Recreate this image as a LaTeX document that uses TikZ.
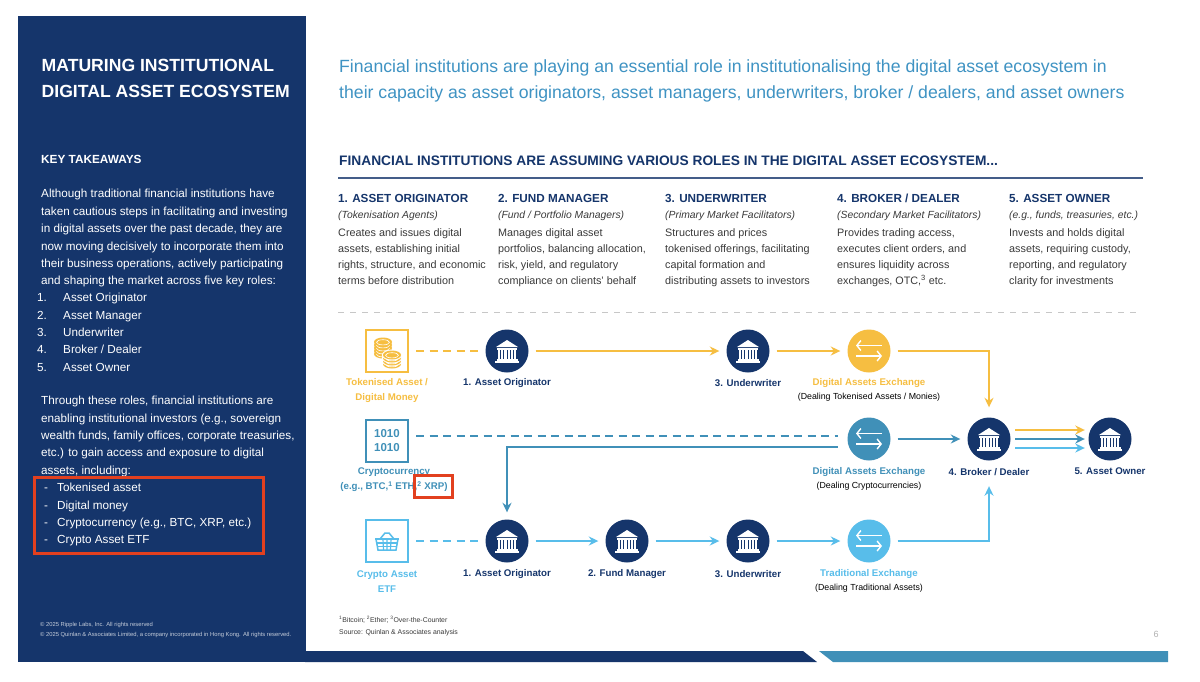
\documentclass[tikz,border=0pt]{standalone}
\usepackage{fontspec}
\setmainfont{Liberation Sans}
\usetikzlibrary{arrows.meta}

\definecolor{navy}{HTML}{15356B}
\definecolor{gold}{HTML}{F6BE41}
\definecolor{teal}{HTML}{4090B8}
\definecolor{sky}{HTML}{58BDEA}
\definecolor{redbox}{HTML}{E2401F}
\definecolor{titleblue}{HTML}{3F93C3}
\definecolor{bodygrey}{HTML}{3A3A3A}
\newcommand{\fsz}[2]{\fontsize{#1}{#2}\selectfont}

\tikzset{
  bank/.pic={
    \fill[white] (-11,-4) -- (0,-11) -- (11,-4) -- cycle;
    \fill[white] (-10,-3) rectangle (10,-1.5);
    \foreach \cx in {-8,-4.8,-1.6,1.6,4.8,8} \fill[white] (\cx-1.1,-1) rectangle (\cx+1.1,7.5);
    \fill[white] (-10.5,8) rectangle (10.5,9.5);
    \fill[white] (-12,10) rectangle (12,11.5);
  },
  swap/.pic={
    \draw[white,line width=1.4pt,-{Straight Barb[length=4pt,width=10pt]}] (13,-5.5) -- (-13,-5.5);
    \draw[white,line width=1.4pt,-{Straight Barb[length=4pt,width=10pt]}] (-13,5) -- (13,5);
  },
  coins/.pic={
    \foreach \cy in {3,0,-3,-6,-9} {
      \fill[gold] (-4,\cy) ellipse (9 and 4.5);
      \draw[white,line width=.6pt] (-4,\cy+.3) ellipse (6.5 and 2.6);
    }
    \foreach \cy in {13,10,7,4} {
      \fill[white] (5,\cy) ellipse (10.2 and 5.5);
      \fill[gold] (5,\cy) ellipse (9 and 4.5);
      \draw[white,line width=.6pt] (5,\cy+.3) ellipse (6.5 and 2.6);
    }
  },
  basket/.pic={
    \draw[sky,line width=1.5pt] (-7,-2) -- (-2,-8) -- (2,-8) -- (7,-2);
    \draw[sky,line width=1.5pt] (-12,-2) -- (12,-2);
    \draw[sky,line width=1.5pt] (-11,-2) -- (-9,9) -- (9,9) -- (11,-2);
    \draw[sky,line width=1.2pt] (-10,2) -- (10,2) (-9.5,5.5) -- (9.5,5.5);
    \draw[sky,line width=1.2pt] (-4,-2) -- (-3.5,9) (0,-2) -- (0,9) (4,-2) -- (3.5,9);
  }
}

\begin{document}
\begin{tikzpicture}[x=1pt,y=-1pt,>={Stealth[length=9.5pt,width=9pt]},
    bank node/.style={circle,fill=navy,minimum size=43pt,inner sep=0pt},
    asset node/.style={draw=#1,fill=white,line width=2.2pt,minimum size=42pt,inner sep=0pt},
    flow/.style={draw=#1,line width=2pt,->,shorten <=7pt,shorten >=7pt},
    dashflow/.style={draw=#1,line width=2pt,dash pattern=on 8pt off 5.5pt,shorten <=7pt,shorten >=2pt},
    role label/.style={font=\fsz{9.7}{15}\bfseries,text=navy,align=center,inner sep=0pt},
    asset label/.style={font=\fsz{9.7}{15}\bfseries,text=#1,align=center,inner sep=0pt},
    sub label/.style={font=\fsz{8.8}{11},text=black,align=center,inner sep=0pt},
    side text/.style={font=\fsz{11.7}{17.4},text=white,align=left,anchor=north west,inner sep=0pt},
    col head/.style={font=\fsz{11.7}{16}\bfseries,text=navy,anchor=west,inner sep=0pt},
    col sub/.style={font=\fsz{10.35}{12}\itshape,text=bodygrey,anchor=west,inner sep=0pt},
    col body/.style={font=\fsz{10.8}{16},text=bodygrey,align=left,anchor=north west,inner sep=0pt},
    red mark/.style={draw=redbox,line width=3pt,inner sep=0pt}]
  \useasboundingbox (0,0) rectangle (1200,681);
  \fill[white] (0,0) rectangle (1200,681);

  % side panel and bottom bar
  \fill[navy] (18,15.5) rectangle (305.5,662);
  \fill[navy] (305,651) -- (803,651) -- (817,662) -- (305,662) -- cycle;
  \fill[teal] (819,651) -- (1168,651) -- (1168,662) -- (833,662) -- cycle;

  % side panel text
  \node[font=\fsz{17.6}{26}\bfseries,text=white,align=left,anchor=north west,inner sep=0pt] (sidetitle) at (41.5,59) {MATURING INSTITUTIONAL\\DIGITAL ASSET ECOSYSTEM};
  \node[font=\fsz{11.8}{14}\bfseries,text=white,anchor=west,inner sep=0pt] (takeaways) at (41,159.5) {KEY TAKEAWAYS};
  \node[side text] (para1) at (41,189.3) {Although traditional financial institutions have\\taken cautious steps in facilitating and investing\\in digital assets over the past decade, they are\\now moving decisively to incorporate them into\\their business operations, actively participating\\and shaping the market across five key roles:};
  \node[side text] (listnum) at (37,293) {1.\vphantom{k}\\2.\\3.\\4.\\5.};
  \node[side text] (listrole) at (63,293) {Asset Originator\\Asset Manager\\Underwriter\\Broker / Dealer\\Asset Owner};
  \node[side text] (para2) at (41,396) {Through these roles, financial institutions are\\enabling institutional investors (e.g., sovereign\\wealth funds, family offices, corporate treasuries,\\etc.) to gain access and exposure to digital\\assets, including:};
  \node[side text] (listdash) at (44,483) {-\vphantom{k}\\-\\-\\-};
  \node[side text] (listasset) at (57,483) {Tokenised asset\\Digital money\\Cryptocurrency (e.g., BTC, XRP, etc.)\\Crypto Asset ETF};
  \node[font=\fsz{5.83}{10},text=white!75!navy,align=left,anchor=north west,inner sep=0pt] (copyright) at (40,622) {© 2025 Ripple Labs, Inc. All rights reserved\\© 2025 Quinlan \& Associates Limited, a company incorporated in Hong Kong. All rights reserved.};
  \node[red mark,minimum width=229pt,minimum height=76pt,anchor=north west] (sidemark) at (33,476) {};

  % header text
  \node[font=\fsz{17.66}{26},text=titleblue,align=left,anchor=north west,inner sep=0pt] (headline) at (339,59) {Financial institutions are playing an essential role in institutionalising the digital asset ecosystem in\\their capacity as asset originators, asset managers, underwriters, broker / dealers, and asset owners};
  \node[font=\fsz{13.75}{16}\bfseries,text=navy,anchor=west,inner sep=0pt] (subhead) at (339,161) {FINANCIAL INSTITUTIONS ARE ASSUMING VARIOUS ROLES IN THE DIGITAL ASSET ECOSYSTEM...};
  \draw[navy!80!white,line width=2pt] (338,177.5) -- (1143,177.5);

  % role columns
  \node[col head] (head1) at (338,198) {1. ASSET ORIGINATOR};
  \node[col sub] (sub1) at (338,216) {(Tokenisation Agents)};
  \node[col body] (body1) at (338,228) {Creates and issues digital\\assets, establishing initial\\rights, structure, and economic\\terms before distribution};
  \node[col head] (head2) at (498,198) {2. FUND MANAGER};
  \node[col sub] (sub2) at (498,216) {(Fund / Portfolio Managers)};
  \node[col body] (body2) at (498,228) {Manages digital asset\\portfolios, balancing allocation,\\risk, yield, and regulatory\\compliance on clients' behalf};
  \node[col head] (head3) at (665,198) {3. UNDERWRITER};
  \node[col sub] (sub3) at (665,216) {(Primary Market Facilitators)};
  \node[col body] (body3) at (665,228) {Structures and prices\\tokenised offerings, facilitating\\capital formation and\\distributing assets to investors};
  \node[col head] (head4) at (837,198) {4. BROKER / DEALER};
  \node[col sub] (sub4) at (837,216) {(Secondary Market Facilitators)};
  \node[col body] (body4) at (837,228) {Provides trading access,\\executes client orders, and\\ensures liquidity across\\exchanges, OTC,\textsuperscript{3} etc.};
  \node[col head] (head5) at (1009,198) {5. ASSET OWNER};
  \node[col sub] (sub5) at (1009,216) {(e.g., funds, treasuries, etc.)};
  \node[col body] (body5) at (1009,228) {Invests and holds digital\\assets, requiring custody,\\reporting, and regulatory\\clarity for investments};
  \draw[black!22,line width=1pt,dash pattern=on 6pt off 6pt] (338,312.5) -- (1138,312.5);

  % nodes
  \node[asset node=gold] (tokenised) at (387,351) {};
  \node[asset node=teal,font=\fsz{11.5}{14}\bfseries,text=teal,align=center] (crypto) at (387,441) {1010\\1010};
  \node[asset node=sky] (etf) at (387,541) {};
  \node[bank node] (orig1) at (507,351) {};
  \node[bank node] (under1) at (748,351) {};
  \node[bank node,fill=gold] (exch1) at (869,351) {};
  \node[bank node,fill=teal] (exch2) at (869,439) {};
  \node[bank node] (broker) at (989,439) {};
  \node[bank node] (owner) at (1110,439) {};
  \node[bank node] (orig3) at (507,541) {};
  \node[bank node] (fund) at (627,541) {};
  \node[bank node] (under3) at (748,541) {};
  \node[bank node,fill=sky] (exch3) at (869,541) {};

  % icons
  \foreach \n in {orig1,under1,broker,owner,orig3,fund,under3} \pic at (\n) {bank};
  \foreach \n in {exch1,exch2,exch3} \pic at (\n) {swap};
  \pic at (tokenised) {coins};
  \pic at (etf) {basket};

  % labels
  \node[asset label=gold] (tokenisedt) at (387,391) {Tokenised Asset /\\Digital Money};
  \node[role label] (orig1t) at (507,383.5) {1. Asset Originator};
  \node[role label] (under1t) at (748,383.5) {3. Underwriter};
  \node[asset label=gold] (exch1t) at (869,383.5) {Digital Assets Exchange};
  \node[sub label] (exch1s) at (869,397) {(Dealing Tokenised Assets / Monies)};
  \node[asset label=teal] (cryptot) at (394,480) {Cryptocurrency\\(e.g., BTC,\textsuperscript{1} ETH,\textsuperscript{2} XRP)};
  \node[asset label=teal] (exch2t) at (869,472.5) {Digital Assets Exchange};
  \node[sub label] (exch2s) at (869,486) {(Dealing Cryptocurrencies)};
  \node[role label] (brokert) at (989,472.5) {4. Broker / Dealer};
  \node[role label] (ownert) at (1110,471.5) {5. Asset Owner};
  \node[asset label=sky] (etft) at (387,581.5) {Crypto Asset\\ETF};
  \node[role label] (orig3t) at (507,574.5) {1. Asset Originator};
  \node[role label] (fundt) at (627,574.5) {2. Fund Manager};
  \node[role label] (under3t) at (748,574.5) {3. Underwriter};
  \node[asset label=sky] (exch3t) at (869,574.5) {Traditional Exchange};
  \node[sub label] (exch3s) at (869,588) {(Dealing Traditional Assets)};
  \node[red mark,minimum width=38pt,minimum height=22pt,anchor=north west] (xrpmark) at (413,474) {};

  % arrows
  \draw[dashflow=gold] (tokenised) -- (orig1);
  \draw[flow=gold] (orig1) -- (under1);
  \draw[flow=gold] (under1) -- (exch1);
  \draw[flow=gold,shorten >=10pt] (exch1) -| (broker);
  \draw[dashflow=teal,shorten >=9.5pt] ([yshift=5pt]crypto.east) -- ([yshift=3pt]exch2.west);
  \draw[flow=teal,shorten <=9.5pt] ([yshift=-8pt]exch2.west) -| (orig3.north);
  \draw[flow=teal] (exch2) -- (broker);
  \draw[dashflow=sky] (etf) -- (orig3);
  \draw[flow=sky] (orig3) -- (fund);
  \draw[flow=sky] (fund) -- (under3);
  \draw[flow=sky] (under3) -- (exch3);
  \draw[flow=sky,shorten >=25.5pt] (exch3) -| (broker);
  \draw[flow=gold,shorten <=4.5pt,shorten >=3.5pt] ([yshift=9pt]broker.east) -- ([yshift=9pt]owner.west);
  \draw[flow=teal,shorten <=4.5pt,shorten >=3.5pt] (broker) -- (owner);
  \draw[flow=sky,shorten <=4.5pt,shorten >=3.5pt] ([yshift=-9pt]broker.east) -- ([yshift=-9pt]owner.west);

  % footnotes
  \node[font=\fsz{6.9}{12},text=bodygrey,align=left,anchor=north west,inner sep=0pt] (notes) at (339,615.5) {\textsuperscript{1}Bitcoin; \textsuperscript{2}Ether; \textsuperscript{3}Over-the-Counter\\Source: Quinlan \& Associates analysis};
  \node[font=\fsz{9}{10},text=black!30,inner sep=0pt] (pageno) at (1156,634) {6};
\end{tikzpicture}
\end{document}
